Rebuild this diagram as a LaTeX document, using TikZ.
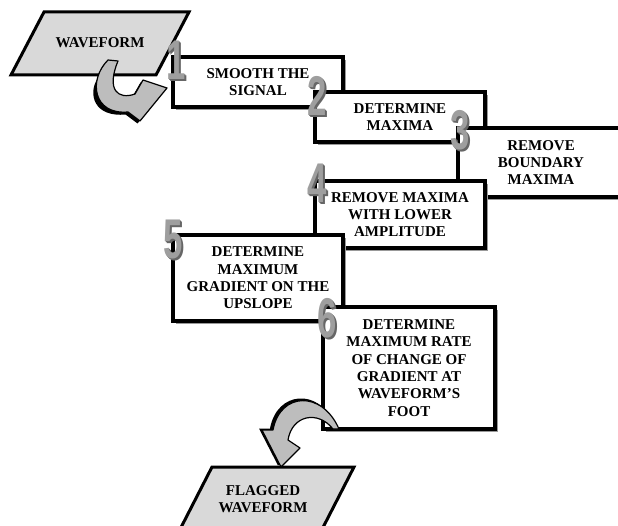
\documentclass[tikz,border=0pt]{standalone}
\usepackage{fontspec}
\setmainfont{Liberation Serif}
\newfontfamily\digitfont[FakeStretch=0.62]{Liberation Sans}
\usetikzlibrary{shadows,calc}

\tikzset{
  labelfont/.style={font=\bfseries\fontsize{15}{17.3}\selectfont},
  procbox/.style={labelfont, draw=black, line width=3.5pt, fill=white,
    align=center, inner sep=2pt,
    drop shadow={shadow xshift=3pt, shadow yshift=-3pt, fill=black!40, opacity=1}},
  ioshape/.style={draw=black, line width=3pt, fill=black!15, line join=miter},
  iolabel/.style={labelfont, align=center, inner sep=0pt},
  numdeep/.style={text=black!60, inner sep=0pt,
    font=\digitfont\bfseries\fontsize{56}{56}\selectfont},
  numface/.style={text=black!38, inner sep=0pt,
    font=\digitfont\bfseries\fontsize{56}{56}\selectfont},
  arrowdeep/.style={fill=black},
  arrowbody/.style={fill=black!26, draw=black, line width=1.2pt, line join=round},
}

% a step number with a darker extruded side
\newcommand\stepnumber[3]{%
  \node[numdeep] at ($(#2)+(2.4,1.8)$) {#3};
  \node[numdeep] at ($(#2)+(1.2,0.9)$) {#3};
  \node[numface] (#1) at (#2) {#3};
}

\begin{document}
\begin{tikzpicture}[x=1pt,y=-1pt]
\useasboundingbox (0,0) rectangle (618,526);
\clip (0,0) rectangle (618,526);

% input
\coordinate (wa) at (44,12);
\coordinate (wb) at (189,12);
\coordinate (wc) at (156,75);
\coordinate (wd) at (11,75);
\path[ioshape] (wa) -- (wb) -- (wc) -- (wd) -- cycle;
\node[iolabel] (wave) at (100,43) {WAVEFORM};

% curved arrow from the input into step 1
\begin{scope}[shift={(-2.5,2.5)}]
  \path[arrowdeep] (100,76) .. controls (90,92) and (97,115) .. (128,112)
    -- (140,121) -- (167,88) -- (143,80) -- (135,94)
    .. controls (120,100) and (108,92) .. (114,76) -- cycle;
\end{scope}
\path[arrowbody] (108,60) .. controls (88,80) and (93,115) .. (128,112)
  -- (140,121) -- (167,88) -- (143,80) -- (135,94)
  .. controls (118,100) and (106,90) .. (118,61) -- cycle;

% processing steps, each one laid over the previous
\node[procbox, minimum width=170pt, minimum height=50pt] (s1) at (258,82)
  {SMOOTH THE\\SIGNAL};
\stepnumber{n1}{176,60}{1}

\node[procbox, minimum width=170pt, minimum height=50pt] (s2) at (400,117)
  {DETERMINE\\MAXIMA};
\stepnumber{n2}{317,96}{2}

\node[procbox, minimum width=166pt, minimum height=69pt] (s3) at (541,162.5)
  {REMOVE\\BOUNDARY\\MAXIMA};
\stepnumber{n3}{460,130}{3}

\node[procbox, minimum width=170pt, minimum height=67pt] (s4) at (400,214.5)
  {REMOVE MAXIMA\\WITH LOWER\\AMPLITUDE};
\stepnumber{n4}{317,183}{4}

\node[procbox, minimum width=170pt, minimum height=86pt] (s5) at (258,278)
  {DETERMINE\\MAXIMUM\\GRADIENT ON THE\\UPSLOPE};
\stepnumber{n5}{173,240}{5}

\node[procbox, minimum width=172pt, minimum height=122pt] (s6) at (409,368)
  {DETERMINE\\MAXIMUM RATE\\OF CHANGE OF\\GRADIENT AT\\WAVEFORM'S\\FOOT};
\stepnumber{n6}{327,318}{6}

% curved arrow from step 6 to the output
\begin{scope}[shift={(-3,-1.5)}]
  \path[arrowdeep] (336,424) .. controls (322,390) and (280,392) .. (273,430)
    -- (262,430) -- (281,467) -- (300,448) -- (288,440)
    .. controls (292,415) and (316,410) .. (326,422) -- cycle;
\end{scope}
\path[arrowbody] (339,429) .. controls (322,390) and (280,392) .. (273,430)
  -- (262,430) -- (281,467) -- (300,448) -- (288,440)
  .. controls (292,415) and (318,410) .. (333,429) -- cycle;

% output
\coordinate (fa) at (212,467);
\coordinate (fb) at (354,467);
\coordinate (fc) at (314,545);
\coordinate (fd) at (172,545);
\path[ioshape] (fa) -- (fb) -- (fc) -- (fd) -- cycle;
\node[iolabel] (flag) at (263,499) {FLAGGED\\WAVEFORM};
\end{tikzpicture}
\end{document}
